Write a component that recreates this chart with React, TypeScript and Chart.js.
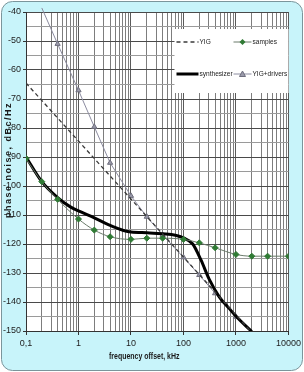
import React, { useEffect, useRef } from 'react';
import { Chart, registerables } from 'chart.js';
Chart.register(...registerables);

// ---- data ----
const xTickValues = [0.1, 1, 10, 100, 1000, 10000];
const xTickLabels = ['0,1', '1', '10', '100', '1000', '10000'];
const yMin = -150;
const yMax = -40;

const yigFreq = [0.1, 1, 10, 100, 1000, 2000];
const yigValues = [-64.5, -84.5, -104.5, -124.5, -144.5, -150.5];

const samplesFreq = [0.1, 0.2, 0.4, 1, 2, 4, 10, 20, 40, 100, 200, 400, 1000, 2000, 4000, 10000];
const samplesValues = [-90.5, -98.5, -104.6, -111.4, -115.2, -117.5, -118.4, -118, -118, -118.4, -119.6, -121.3, -123.6, -124.2, -124.2, -124.2];

const synthFreq = [0.1, 0.2, 0.4, 0.7, 1, 2, 4, 10, 20, 40, 70, 100, 150, 215, 310, 480, 740, 1000, 2000];
const synthValues = [-90, -98.5, -104, -107.2, -108.6, -111, -113.6, -115.9, -116.1, -116.5, -117, -117.9, -120, -125.5, -132.2, -138.2, -142.2, -144.9, -150.2];

const yigDrvFreq = [0.2, 0.4, 1, 2, 4, 10, 20, 40, 100, 200, 400, 1000];
const yigDrvValues = [-38.6, -51, -67, -79.6, -92, -103.4, -110.6, -116.9, -124.6, -130.7, -137, -145.1];

const seriesLabels = ['YIG', 'samples', 'synthesizer', 'YIG+drivers'];
const yTitle = 'phase noise, dBc/Hz';
const xTitle = 'frequency offset, kHz';

// ---- helpers ----
function hasFont(name: string): boolean {
  const c = document.createElement('canvas').getContext('2d')!;
  const s = 'abcdefghijklmnopqrstuvwxyz0123456789';
  c.font = '20px monospace';
  const a = c.measureText(s).width;
  c.font = `20px '${name}', monospace`;
  const b = c.measureText(s).width;
  return Math.abs(a - b) > 0.5;
}

function pts(xs: number[], ys: number[]) {
  return xs.map((x, i) => ({ x, y: ys[i] }));
}

function isDecade(v: number) {
  return xTickValues.some((t) => Math.abs(v - t) / t < 1e-6);
}

function roundRect(ctx: CanvasRenderingContext2D, x: number, y: number, w: number, h: number, r: number) {
  ctx.beginPath();
  ctx.moveTo(x + r, y);
  ctx.lineTo(x + w - r, y);
  ctx.arcTo(x + w, y, x + w, y + r, r);
  ctx.lineTo(x + w, y + h - r);
  ctx.arcTo(x + w, y + h, x + w - r, y + h, r);
  ctx.lineTo(x + r, y + h);
  ctx.arcTo(x, y + h, x, y + h - r, r);
  ctx.lineTo(x, y + r);
  ctx.arcTo(x, y, x + r, y, r);
  ctx.closePath();
}

export default function App() {
  const ref = useRef<HTMLCanvasElement>(null);

  useEffect(() => {
    const narrow = hasFont('Liberation Sans Narrow');
    const family = narrow ? "'Liberation Sans Narrow', 'Liberation Sans', Arial, sans-serif" : "'Liberation Sans', Arial, sans-serif";
    const squeeze = narrow ? 1 : 0.82;

    const allTicks: number[] = [];
    for (let k = -1; k <= 3; k++) {
      for (let m = 1; m <= 9; m++) allTicks.push(parseFloat((m * Math.pow(10, k)).toPrecision(6)));
    }
    allTicks.push(10000);

    const drawTxt = (
      ctx: CanvasRenderingContext2D, text: string, x: number, y: number, font: string,
      align: CanvasTextAlign, sx: number, rot = 0, spacing = '0px'
    ) => {
      ctx.save();
      ctx.translate(x, y);
      if (rot) ctx.rotate(rot);
      ctx.scale(sx, 1);
      ctx.font = font;
      (ctx as any).letterSpacing = spacing;
      ctx.textAlign = align;
      ctx.textBaseline = 'middle';
      ctx.fillStyle = '#1a1a1a';
      ctx.fillText(text, 0, 0);
      ctx.restore();
    };

    const bgPlugin = {
      id: 'bgPlugin',
      beforeDraw(chart: any) {
        const { ctx, chartArea: a, width, height } = chart;
        ctx.save();
        ctx.fillStyle = '#ffffff';
        ctx.fillRect(0, 0, width, height);
        roundRect(ctx, 1.5, 1.5, width - 3, height - 3, 11);
        ctx.fillStyle = '#c8f4fa';
        ctx.fill();
        ctx.strokeStyle = '#7b959b';
        ctx.lineWidth = 1;
        ctx.stroke();
        ctx.fillStyle = '#ffffff';
        ctx.fillRect(a.left, a.top, a.right - a.left, a.bottom - a.top);
        ctx.restore();
      },
      afterDatasetsDraw(chart: any) {
        const { ctx, chartArea: a } = chart;
        const bw = 114, bh = 64;
        const bx = a.right - bw, by = a.top + 17;
        ctx.save();
        ctx.fillStyle = '#ffffff';
        ctx.fillRect(bx, by, bw, bh);
        const rows = [by + 13, by + 45];
        const cols = [
          { l0: bx + 2, l1: bx + 24, t: bx + 25 },
          { l0: bx + 59, l1: bx + 77, t: bx + 78 },
        ];
        const place = [[0, 0], [1, 0], [0, 1], [1, 1]];
        chart.data.datasets.forEach((ds: any, i: number) => {
          const [c, r] = place[i];
          const col = cols[c];
          const y = rows[r];
          ctx.save();
          ctx.strokeStyle = ds.borderColor;
          ctx.lineWidth = ds.borderWidth;
          ctx.setLineDash(ds.borderDash || []);
          ctx.beginPath();
          ctx.moveTo(col.l0, y);
          ctx.lineTo(col.l1, y);
          ctx.stroke();
          ctx.setLineDash([]);
          const mx = (col.l0 + col.l1) / 2;
          if (ds.pointStyle === 'rectRot') {
            ctx.fillStyle = ds.pointBackgroundColor;
            ctx.beginPath();
            ctx.moveTo(mx, y - 3); ctx.lineTo(mx + 3, y); ctx.lineTo(mx, y + 3); ctx.lineTo(mx - 3, y);
            ctx.closePath(); ctx.fill();
          } else if (ds.pointStyle === 'triangle') {
            ctx.fillStyle = ds.pointBackgroundColor;
            ctx.strokeStyle = ds.pointBorderColor;
            ctx.lineWidth = 1;
            ctx.beginPath();
            ctx.moveTo(mx, y - 3); ctx.lineTo(mx + 3, y + 2.5); ctx.lineTo(mx - 3, y + 2.5);
            ctx.closePath(); ctx.fill(); ctx.stroke();
          }
          ctx.restore();
          drawTxt(ctx, ds.label, col.t, y, `8px ${family}`, 'left', squeeze);
        });
        ctx.restore();
      },
      afterDraw(chart: any) {
        const { ctx, chartArea: a } = chart;
        drawTxt(ctx, yTitle, 9, a.top + 148, `bold 9px 'Liberation Sans', Arial, sans-serif`, 'center', 1, -Math.PI / 2, '1.5px');
        drawTxt(ctx, xTitle, (a.left + a.right) / 2 - 13, 357, `bold 8.5px ${family}`, 'center', squeeze);
      },
    };

    const tickFont = { family, size: 9 };

    const chart = new Chart(ref.current!, {
      type: 'line',
      data: {
        datasets: [
          {
            label: seriesLabels[0],
            data: pts(yigFreq, yigValues),
            borderColor: '#3a3a3a',
            borderWidth: 1.3,
            borderDash: [4, 3],
            pointRadius: 0,
            tension: 0,
          },
          {
            label: seriesLabels[1],
            data: pts(samplesFreq, samplesValues),
            borderColor: '#6a7a6a',
            borderWidth: 1,
            pointStyle: 'rectRot',
            pointRadius: 3,
            pointBackgroundColor: '#2f7a34',
            pointBorderColor: '#2f7a34',
            tension: 0.3,
            cubicInterpolationMode: 'monotone',
          },
          {
            label: seriesLabels[2],
            data: pts(synthFreq, synthValues),
            borderColor: '#000000',
            borderWidth: 3,
            pointRadius: 0,
            tension: 0.4,
            cubicInterpolationMode: 'monotone',
          },
          {
            label: seriesLabels[3],
            data: pts(yigDrvFreq, yigDrvValues),
            borderColor: '#8c8ca0',
            borderWidth: 1,
            pointStyle: 'triangle',
            pointRadius: (c: any) => (c.dataIndex === 0 ? 0 : 3),
            pointBackgroundColor: '#9a9aaa',
            pointBorderColor: '#6e6e7e',
            tension: 0,
            clip: { left: 0, top: 5, right: 0, bottom: 0 },
          },
        ] as any,
      },
      options: {
        animation: false,
        responsive: false,
        devicePixelRatio: 1,
        layout: { padding: { top: 12, right: 10, left: 0, bottom: 0 } },
        plugins: { legend: { display: false }, tooltip: { enabled: false }, title: { display: false } },
        scales: {
          x: {
            type: 'logarithmic',
            min: 0.1,
            max: 10000,
            afterBuildTicks: (scale: any) => {
              scale.ticks = allTicks.map((v) => ({ value: v }));
            },
            afterFit: (scale: any) => {
              scale.height = 41;
            },
            ticks: {
              autoSkip: false,
              maxRotation: 0,
              minRotation: 0,
              padding: 3,
              color: '#222',
              font: tickFont,
              callback: (v: any) => {
                const idx = xTickValues.findIndex((t) => Math.abs(Number(v) - t) / t < 1e-6);
                return idx >= 0 ? xTickLabels[idx] : '';
              },
            },
            grid: {
              color: (c: any) => (c.tick && isDecade(c.tick.value) ? '#5a5a5a' : '#7d7d7d'),
              lineWidth: 1,
              tickLength: 4,
              tickColor: (c: any) => (c.tick && isDecade(c.tick.value) ? '#333' : 'rgba(0,0,0,0)'),
            },
            border: { color: '#333', width: 1 },
          },
          y: {
            type: 'linear',
            min: yMin,
            max: yMax,
            afterFit: (scale: any) => {
              scale.width = 26;
            },
            ticks: {
              stepSize: 5,
              padding: 2,
              color: '#222',
              font: tickFont,
              callback: (v: any) => (Number(v) % 10 === 0 ? String(v) : ''),
            },
            grid: {
              color: (c: any) => (c.tick && c.tick.value % 10 === 0 ? '#4a4a4a' : '#9a9a9a'),
              lineWidth: 1,
              tickLength: 3,
              tickColor: (c: any) => (c.tick && c.tick.value % 10 === 0 ? '#333' : 'rgba(0,0,0,0)'),
            },
            border: { color: '#333', width: 1 },
          },
        },
      } as any,
      plugins: [bgPlugin],
    });
    return () => chart.destroy();
  }, []);

  return (
    <div style={{ position: 'absolute', left: 0, top: 0, width: 304, height: 372 }}>
      <canvas ref={ref} width={304} height={372} style={{ display: 'block', width: 304, height: 372 }} />
    </div>
  );
}
